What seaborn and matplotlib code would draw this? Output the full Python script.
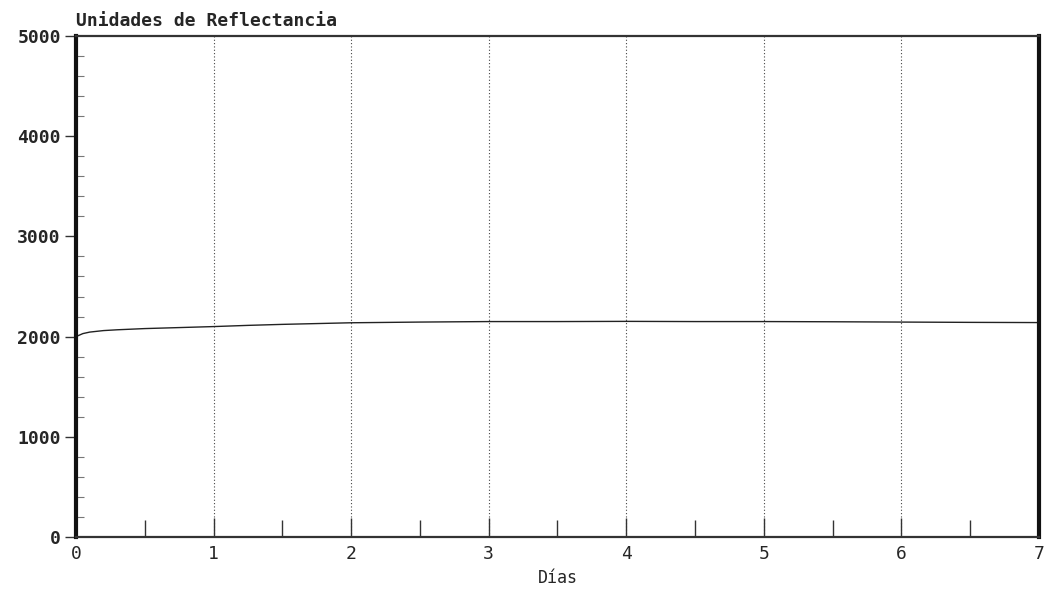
import matplotlib
matplotlib.use("Agg")
import matplotlib.pyplot as plt
from matplotlib.ticker import MultipleLocator
import seaborn as sns
import pandas as pd

sns.set_style("white")
plt.rcParams['font.family'] = ['DejaVu Sans Mono']

dias = [0, 0.05, 0.1, 0.2, 0.3, 0.5, 0.75, 1.0, 1.25, 1.5, 1.75, 2.0, 2.5,
        3.0, 3.5, 4.0, 4.5, 5.0, 5.5, 6.0, 6.5, 7.0]
reflectancia = [2000, 2030, 2045, 2060, 2068, 2080, 2090, 2100, 2112, 2122,
                2130, 2138, 2145, 2150, 2150, 2152, 2150, 2150, 2148, 2145,
                2142, 2140]
x_ticks = [0, 1, 2, 3, 4, 5, 6, 7]
y_ticks = [0, 1000, 2000, 3000, 4000, 5000]

df = pd.DataFrame({"Días": dias, "Reflectancia": reflectancia})

fig = plt.figure(figsize=(10.57, 5.96), dpi=100)
ax = fig.add_axes([0.0719, 0.099, 0.911, 0.8406])
sns.lineplot(data=df, x="Días", y="Reflectancia", ax=ax, color="#222222",
             linewidth=1.0)

ax.set_xlim(0, 7)
ax.set_ylim(0, 5000)
ax.set_xticks(x_ticks)
ax.set_yticks(y_ticks)
ax.xaxis.set_minor_locator(MultipleLocator(0.5))
ax.yaxis.set_minor_locator(MultipleLocator(200))
ax.tick_params(axis='x', which='both', bottom=True)
ax.tick_params(axis='y', which='both', left=True)
ax.tick_params(axis='x', which='major', direction='in', length=14, width=1,
               labelsize=13, color='#333333', pad=6)
ax.tick_params(axis='x', which='minor', direction='in', length=12, width=1,
               color='#333333')
ax.tick_params(axis='y', which='major', direction='out', length=8, width=1,
               labelsize=13, color='#333333', pad=3)
ax.tick_params(axis='y', which='minor', direction='in', length=6, width=0.8,
               color='#777777')
for lbl in ax.get_yticklabels():
    lbl.set_fontweight('bold')

ax.grid(axis='x', which='major', linestyle=(0, (1, 2)), color='#444444',
        linewidth=0.8)
for side in ['top', 'bottom']:
    ax.spines[side].set_linewidth(1.6)
    ax.spines[side].set_color('#333333')
ax.spines['left'].set_linewidth(3)
ax.spines['left'].set_color('#111111')
ax.spines['right'].set_linewidth(3)
ax.spines['right'].set_color('#111111')

ax.set_xlabel("Días", fontsize=12, labelpad=4)
ax.set_ylabel("")
ax.text(0.0, 1.012, "Unidades de Reflectancia", transform=ax.transAxes,
        fontsize=13, ha='left', va='bottom', fontweight='bold')

fig.savefig("out.png", dpi=100)
